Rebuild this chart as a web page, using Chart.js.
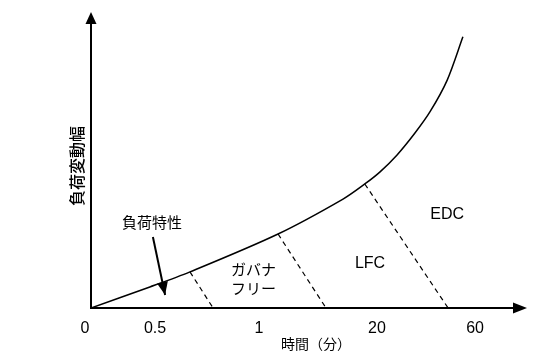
<!DOCTYPE html>
<html>
<head>
<meta charset="utf-8">
<script src="https://cdn.jsdelivr.net/npm/chart.js@4/dist/chart.umd.min.js"></script>
<style>
html,body{margin:0;padding:0;background:#fff;}
#wrap{width:558px;height:357px;position:relative;}
</style>
</head>
<body>
<div id="wrap"><canvas id="c" width="558" height="357"></canvas></div>
<script>
// ---- data (abstract units: x = time axis position, y = load fluctuation width) ----
const curveX = [0, 13.5, 22.7, 42.9, 57.8, 62.8, 66.3, 70.2, 74.3, 77.8, 81.7, 85.3];
const curveY = [0, 7.1, 12.2, 25.0, 36.8, 41.9, 46.0, 51.7, 59.1, 66.4, 77.0, 91.6];

const dashStartX = [22.7, 42.9, 62.8];
const dashStartY = [12.2, 25.0, 41.9];
const dashEndX   = [28.0, 53.9, 81.9];

const pointerFrom = [14.2, 24.0];
const pointerTo   = [17.0, 4.4];

const xTickLabels = ['0', '0.5', '1', '20', '60'];
const xTickPos    = [-1.4, 14.7, 38.5, 65.6, 88.1];

const regionLabels = ['負荷特性', 'ガバナ', 'フリー', 'LFC', 'EDC'];
const regionX = [14.0, 32.1, 32.1, 64.0, 81.7];
const regionY = [29.0, 13.2, 6.8, 14.9, 31.4];
const regionAlign = ['center', 'left', 'left', 'center', 'center'];

const xTitle = '時間（分）';
const yTitle = '負荷変動幅';

const JP = '"Noto Sans CJK JP", "Noto Sans", sans-serif';
const LAT = '"Liberation Sans", Arial, sans-serif';

const datasets = [{
  data: curveX.map((x, i) => ({x, y: curveY[i]})),
  showLine: true, borderColor: '#000', borderWidth: 1.5, pointRadius: 0,
  tension: 0.3, fill: false
}];
dashStartX.forEach((sx, i) => {
  datasets.push({
    data: [{x: sx, y: dashStartY[i]}, {x: dashEndX[i], y: 0}],
    showLine: true, borderColor: '#000', borderWidth: 1.2, borderDash: [5, 4],
    pointRadius: 0, fill: false
  });
});
datasets.push({
  data: [{x: pointerFrom[0], y: pointerFrom[1]}, {x: pointerTo[0], y: pointerTo[1]}],
  showLine: true, borderColor: '#000', borderWidth: 2, pointRadius: 0, fill: false
});

const decor = {
  id: 'decor',
  afterDatasetsDraw(chart) {
    const ctx = chart.ctx, xs = chart.scales.x, ys = chart.scales.y, a = chart.chartArea;
    const x0 = xs.getPixelForValue(0), y0 = ys.getPixelForValue(0);
    ctx.save();
    ctx.fillStyle = '#000'; ctx.strokeStyle = '#000';
    // axes
    ctx.lineWidth = 2;
    ctx.beginPath();
    ctx.moveTo(x0, y0 + 1); ctx.lineTo(x0, a.top + 10);
    ctx.moveTo(x0 - 1, y0); ctx.lineTo(a.right - 12, y0);
    ctx.stroke();
    // arrowheads
    ctx.beginPath();
    ctx.moveTo(x0, a.top); ctx.lineTo(x0 - 5.5, a.top + 12); ctx.lineTo(x0 + 5.5, a.top + 12); ctx.closePath();
    ctx.fill();
    ctx.beginPath();
    ctx.moveTo(a.right, y0); ctx.lineTo(a.right - 14, y0 - 5.5); ctx.lineTo(a.right - 14, y0 + 5.5); ctx.closePath();
    ctx.fill();
    // pointer arrowhead
    const px1 = xs.getPixelForValue(pointerFrom[0]), py1 = ys.getPixelForValue(pointerFrom[1]);
    const px2 = xs.getPixelForValue(pointerTo[0]), py2 = ys.getPixelForValue(pointerTo[1]);
    const ang = Math.atan2(py2 - py1, px2 - px1);
    const L = 13, W = 5.5;
    const bx = px2 - L * Math.cos(ang), by = py2 - L * Math.sin(ang);
    ctx.beginPath();
    ctx.moveTo(px2, py2);
    ctx.lineTo(bx + W * Math.sin(ang), by - W * Math.cos(ang));
    ctx.lineTo(bx - W * Math.sin(ang), by + W * Math.cos(ang));
    ctx.closePath(); ctx.fill();
    // tick labels
    ctx.font = '16px ' + LAT;
    ctx.textAlign = 'center'; ctx.textBaseline = 'middle';
    xTickLabels.forEach((t, i) => ctx.fillText(t, xs.getPixelForValue(xTickPos[i]), y0 + 21));
    // region labels
    regionLabels.forEach((t, i) => {
      const isJP = /[^\x00-\x7f]/.test(t);
      ctx.font = isJP ? '15px ' + JP : '16px ' + LAT;
      ctx.textAlign = regionAlign[i];
      ctx.fillText(t, xs.getPixelForValue(regionX[i]), ys.getPixelForValue(regionY[i]));
    });
    // axis titles
    ctx.font = '14px ' + JP; ctx.textAlign = 'center';
    ctx.fillText(xTitle, (a.left + a.right) / 2 + 7, y0 + 36);
    ctx.save();
    ctx.translate(x0 - 14, (a.top + y0) / 2 + 6);
    ctx.rotate(-Math.PI / 2);
    ctx.font = '500 16px ' + JP;
    ctx.fillText(yTitle, 0, 0);
    ctx.restore();
    ctx.restore();
  }
};

new Chart(document.getElementById('c'), {
  type: 'scatter',
  data: {datasets},
  options: {
    responsive: false, animation: false,
    layout: {padding: {left: 91, top: 12, right: 31, bottom: 49}},
    plugins: {legend: {display: false}, tooltip: {enabled: false}},
    scales: {
      x: {type: 'linear', min: 0, max: 100, display: false},
      y: {type: 'linear', min: 0, max: 100, display: false}
    }
  },
  plugins: [decor]
});
</script>
</body>
</html>
